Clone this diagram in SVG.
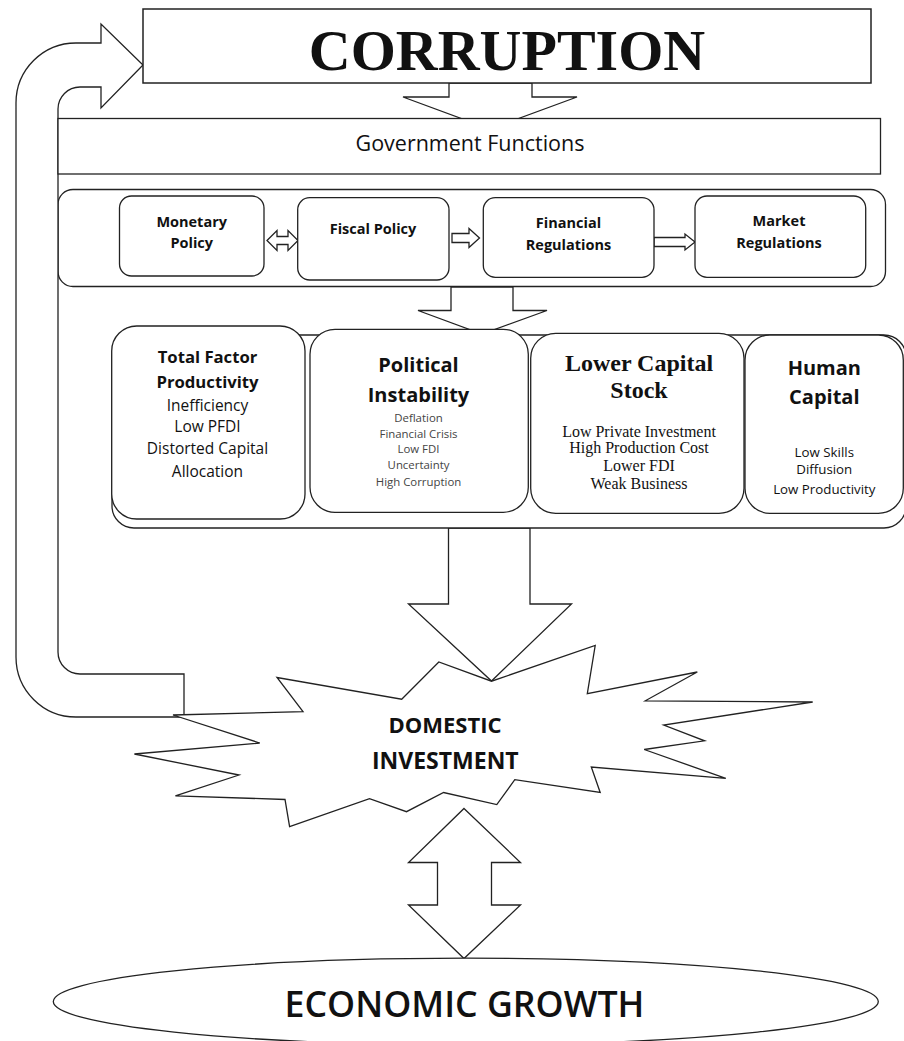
<svg xmlns="http://www.w3.org/2000/svg" width="904" height="1041" viewBox="0 0 904 1041">
<style>
.s{fill:#fff;stroke:#222;stroke-width:1.3}
.o{fill:none;stroke:#222;stroke-width:1.3}
.sans{font-family:"Open Sans","Liberation Sans",sans-serif;fill:#111;text-anchor:middle}
.serif{font-family:"Liberation Serif","DejaVu Serif",serif;fill:#111;text-anchor:middle}
.b{font-weight:bold}
.pol{font-size:14.5px;font-weight:bold}
.tfp-h{font-size:16.7px;font-weight:bold}
.tfp-i{font-size:15.5px}
.h20{font-size:20px;font-weight:bold}
.pi{font-size:11.4px;fill:#444}
.lc-h{font-size:24px;font-weight:bold}
.lc-i{font-size:16px}
.hc-i{font-size:13.3px}
</style>
<rect width="904" height="1041" fill="#fff"/>
<g id="policy-container">
  <rect class="o" x="58" y="189.5" width="827.5" height="97" rx="15"/>
</g>
<g id="connectors">
  <path class="s" d="M184,717 L76,717 A60,60 0 0 1 16,657 L16,103 A60,60 0 0 1 76,43 L101,43 L101,24 L143,65 L101,108 L101,87 L80,87 A22,22 0 0 0 58,109 L58,652 A22,22 0 0 0 80,674 L184,674 Z"/>
  <polygon class="s" points="449,83 532,83 532,97 577,97 490,129 403,97 449,97"/>
  <polygon class="s" points="451,287 513,287 513,310.5 547,310.5 482,334 418,310.5 451,310.5"/>
  <polygon class="s" points="448.5,528 530,528 530,604 571.5,604 491.5,681 408.5,604 448.5,604"/>
  <polygon class="s" points="267,240.5 277,230.5 277,236.5 288,236.5 288,230.5 298,240.5 288,250.5 288,244.5 277,244.5 277,250.5"/>
  <polygon class="s" points="452,233.5 469,233.5 469,228.5 479.5,238 469,247.5 469,242.5 452,242.5"/>
  <polygon class="s" points="654,237.5 685,237.5 685,234 695,242 685,250 685,246.5 654,246.5"/>
  <polygon class="s" points="464,808.5 520.5,862.5 491.5,862.5 491.5,905 520.5,905 464,958.5 408.5,905 437.5,905 437.5,862.5 408.5,862.5"/>
</g>
<g id="corruption">
  <rect class="s" x="143" y="9" width="728" height="74" style="stroke-width:1.5"/>
  <text class="serif b" x="507" y="70" font-size="58">CORRUPTION</text>
</g>
<g id="government-functions">
  <rect class="s" x="58" y="118.5" width="822.5" height="55.5"/>
  <text class="sans" x="470" y="151" font-size="21.5">Government Functions</text>
</g>
<g id="monetary-policy">
  <rect class="s" x="119.5" y="196" width="144.5" height="80" rx="12"/>
  <text class="sans pol" x="191.7" y="226.5">Monetary</text>
  <text class="sans pol" x="191.7" y="248">Policy</text>
</g>
<g id="fiscal-policy">
  <rect class="s" x="297.7" y="197.7" width="151.3" height="82.3" rx="12"/>
  <text class="sans pol" x="373" y="234">Fiscal Policy</text>
</g>
<g id="financial-regulations">
  <rect class="s" x="483.3" y="197.7" width="170.7" height="79.6" rx="12"/>
  <text class="sans pol" x="568.5" y="227.7">Financial</text>
  <text class="sans pol" x="568.5" y="250">Regulations</text>
</g>
<g id="market-regulations">
  <rect class="s" x="695" y="196" width="170.7" height="81.3" rx="12"/>
  <text class="sans pol" x="779" y="225.7">Market</text>
  <text class="sans pol" x="779" y="248.3">Regulations</text>
</g>
<g id="factor-container">
  <rect class="s" x="112" y="335" width="794" height="193" rx="22"/>
</g>
<g id="total-factor-productivity">
  <rect class="s" x="111.7" y="326" width="193.3" height="193" rx="25"/>
  <text class="sans tfp-h" x="207.5" y="362.7">Total Factor</text>
  <text class="sans tfp-h" x="207.5" y="387.7">Productivity</text>
  <text class="sans tfp-i" x="207.5" y="410.7">Inefficiency</text>
  <text class="sans tfp-i" x="207.5" y="432">Low PFDI</text>
  <text class="sans tfp-i" x="207.5" y="454">Distorted Capital</text>
  <text class="sans tfp-i" x="207.5" y="476.7">Allocation</text>
</g>
<g id="political-instability">
  <rect class="s" x="310" y="329.3" width="218.3" height="183" rx="25"/>
  <text class="sans h20" x="418.5" y="372.3">Political</text>
  <text class="sans h20" x="418.5" y="402">Instability</text>
  <text class="sans pi" x="418.5" y="421.7">Deflation</text>
  <text class="sans pi" x="418.5" y="438">Financial Crisis</text>
  <text class="sans pi" x="418.5" y="452.7">Low FDI</text>
  <text class="sans pi" x="418.5" y="469">Uncertainty</text>
  <text class="sans pi" x="418.5" y="485.7">High Corruption</text>
</g>
<g id="lower-capital-stock">
  <rect class="s" x="530.7" y="333.3" width="213.3" height="180" rx="25"/>
  <text class="serif lc-h" x="639" y="370.7">Lower Capital</text>
  <text class="serif lc-h" x="639" y="398.3">Stock</text>
  <text class="serif lc-i" x="639" y="436.7">Low Private Investment</text>
  <text class="serif lc-i" x="639" y="453.3">High Production Cost</text>
  <text class="serif lc-i" x="639" y="470.7">Lower FDI</text>
  <text class="serif lc-i" x="639" y="489">Weak Business</text>
</g>
<g id="human-capital">
  <rect class="s" x="745" y="335" width="158.3" height="178.3" rx="25"/>
  <text class="sans h20" x="824.3" y="375">Human</text>
  <text class="sans h20" x="824.3" y="404">Capital</text>
  <text class="sans hc-i" x="824.3" y="456.7">Low Skills</text>
  <text class="sans hc-i" x="824.3" y="474.3">Diffusion</text>
  <text class="sans hc-i" x="824.3" y="494">Low Productivity</text>
</g>
<g id="domestic-investment">
  <polygon class="s" points="173,715 303,711.7 277,677.5 401.7,699.2 438.8,662 491.5,681.2 595.2,645.5 587.3,693.7 697.3,672 645.3,700.8 812.7,702 663.7,725 704.6,740.8 644.2,749.5 725.8,778.3 591.3,767 600.2,792.5 514.8,779.7 496.8,804.6 443.6,792.5 406.5,811.7 369.5,798.7 289.6,826.7 285,799.5 175.4,795.8 239,775 134.4,754 259.7,743"/>
  <text class="sans b" x="445" y="732.7" font-size="22">DOMESTIC</text>
  <text class="sans b" x="445.3" y="769.3" font-size="23">INVESTMENT</text>
</g>
<g id="economic-growth">
  <ellipse class="s" cx="465.8" cy="1001.5" rx="412.5" ry="43.3"/>
  <text class="sans" x="464.5" y="1016.7" font-size="35.7" font-weight="600">ECONOMIC GROWTH</text>
</g>
</svg>
